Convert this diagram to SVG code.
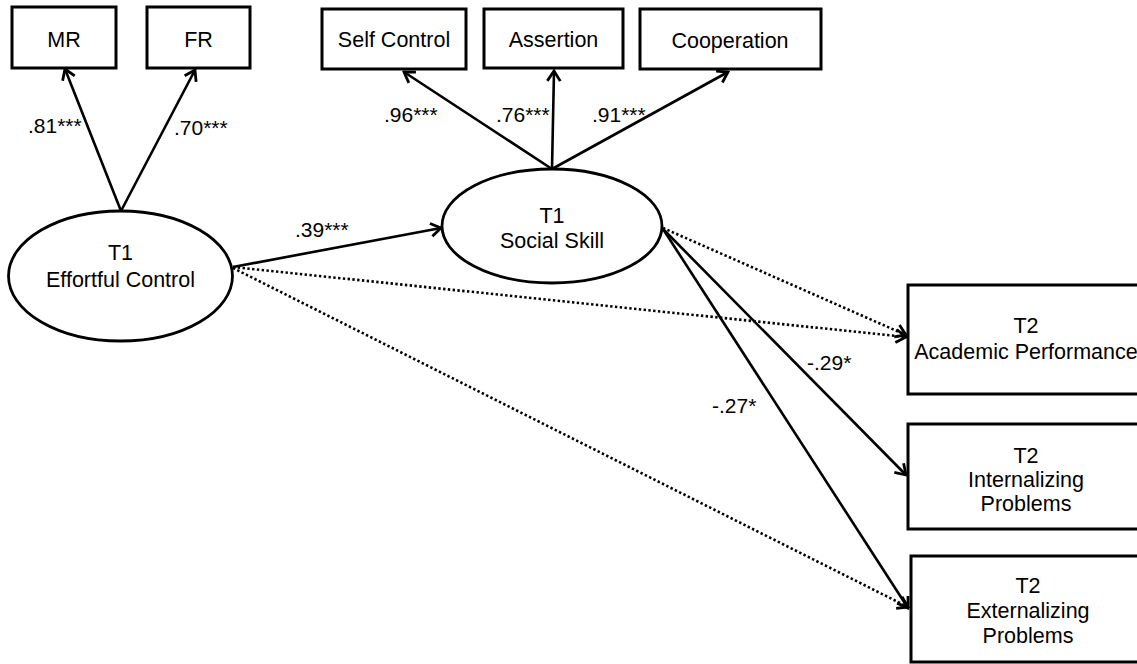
<svg xmlns="http://www.w3.org/2000/svg" width="1137" height="664" viewBox="0 0 1137 664">
<defs>
<marker id="arr" viewBox="0 0 14 16" refX="12" refY="8" markerWidth="14" markerHeight="16" markerUnits="userSpaceOnUse" orient="auto">
<path d="M2,1.5 L12,8 L2,14.5" fill="none" stroke="#000" stroke-width="2.8" stroke-dasharray="none" stroke-linejoin="miter"/>
</marker>
<style>
.box{fill:#fff;stroke:#000;stroke-width:3}
.ell{fill:#fff;stroke:#000;stroke-width:2.8}
.t{font-family:"Liberation Sans",Arial,sans-serif;font-size:21.5px;fill:#000;text-anchor:middle}
.lbl{font-family:"Liberation Sans",Arial,sans-serif;font-size:21px;fill:#000}
.solid{stroke:#000;stroke-width:2.6;fill:none;marker-end:url(#arr)}
.dot{stroke:#000;stroke-width:2.6;fill:none;stroke-dasharray:2.4 2.4;marker-end:url(#arr)}
</style>
</defs>
<rect width="1137" height="664" fill="#fff"/>
<g id="connectors">
<line class="solid" x1="121" y1="211" x2="65" y2="69"/>
<line class="solid" x1="121" y1="211" x2="195" y2="70"/>
<line class="solid" x1="552" y1="169" x2="404" y2="72"/>
<line class="solid" x1="552" y1="169" x2="554" y2="71"/>
<line class="solid" x1="552" y1="169" x2="728" y2="72"/>
<line class="solid" x1="233" y1="267" x2="441" y2="228"/>
<line class="dot" x1="233" y1="267" x2="906" y2="337"/>
<line class="dot" x1="233" y1="268" x2="908" y2="607"/>
<line class="dot" x1="663" y1="228" x2="906" y2="335"/>
<line class="solid" x1="663" y1="229" x2="906" y2="475"/>
<line class="solid" x1="663" y1="229" x2="908" y2="608"/>
<text class="lbl" x="28" y="133">.81***</text>
<text class="lbl" x="174" y="135">.70***</text>
<text class="lbl" x="384" y="122">.96***</text>
<text class="lbl" x="496" y="122">.76***</text>
<text class="lbl" x="592" y="122">.91***</text>
<text class="lbl" x="295" y="237">.39***</text>
<text class="lbl" x="807" y="370">-.29*</text>
<text class="lbl" x="712" y="413">-.27*</text>
</g>
<g id="mr"><rect class="box" x="12" y="7" width="104" height="61"/><text class="t" x="64" y="47">MR</text></g>
<g id="fr"><rect class="box" x="147" y="7" width="103" height="61"/><text class="t" x="198.5" y="47">FR</text></g>
<g id="selfcontrol"><rect class="box" x="322" y="9" width="144" height="60"/><text class="t" x="394" y="47">Self Control</text></g>
<g id="assertion"><rect class="box" x="484" y="9" width="139" height="59"/><text class="t" x="553.5" y="47">Assertion</text></g>
<g id="cooperation"><rect class="box" x="640" y="9" width="181" height="60"/><text class="t" x="730" y="48">Cooperation</text></g>
<g id="effortful"><ellipse class="ell" cx="120.5" cy="276" rx="112" ry="65"/><text class="t" x="120.5" y="260">T1</text><text class="t" x="120.5" y="287">Effortful Control</text></g>
<g id="social"><ellipse class="ell" cx="552" cy="226" rx="110" ry="57"/><text class="t" x="552" y="223">T1</text><text class="t" x="552" y="248">Social Skill</text></g>
<g id="academic"><rect class="box" x="908" y="285" width="240" height="109"/><text class="t" x="1026" y="333">T2</text><text class="t" x="1026" y="359">Academic Performance</text></g>
<g id="internalizing"><rect class="box" x="908" y="424" width="240" height="105"/><text class="t" x="1026" y="463">T2</text><text class="t" x="1026" y="487">Internalizing</text><text class="t" x="1026" y="511">Problems</text></g>
<g id="externalizing"><rect class="box" x="911" y="556" width="240" height="106"/><text class="t" x="1028" y="593">T2</text><text class="t" x="1028" y="618">Externalizing</text><text class="t" x="1028" y="643">Problems</text></g>
</svg>
